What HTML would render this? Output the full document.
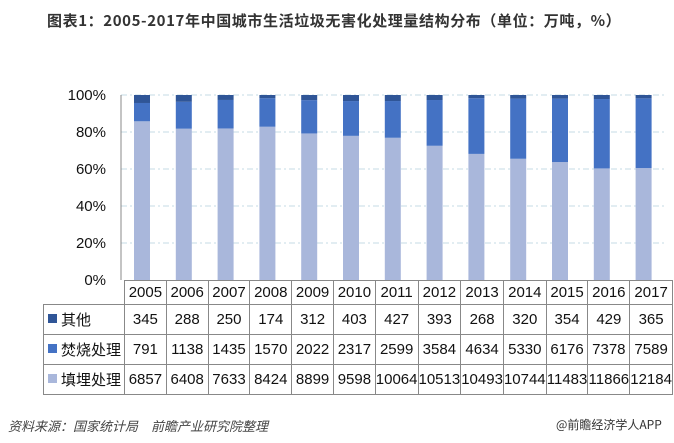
<!DOCTYPE html>
<html><head><meta charset="utf-8"><style>
body{margin:0;width:674px;height:443px;background:#fff;overflow:hidden;font-family:"Liberation Sans","Noto Sans CJK SC",sans-serif;position:relative}
.t{position:absolute;white-space:nowrap}
table{position:absolute;left:43px;top:280px;border-collapse:collapse;font-size:15px;color:#111}
td{border:1px solid #888;text-align:center;padding:0;height:29px;width:40.8px}
td.h{width:76px;text-align:left;padding-left:4px;white-space:nowrap}
tr.hd td{height:23px}
tr.hd td.e{border:none;border-right:1px solid #888;border-bottom:1px solid #888}
.sq{display:inline-block;width:9px;height:9px;margin-right:4px;vertical-align:2px}
</style></head><body>
<div class="t" style="left:47px;top:10px;font-size:15px;letter-spacing:0.6px;font-weight:bold;color:#333;font-family:'Noto Sans CJK SC',sans-serif">图表1：2005-2017年中国城市生活垃圾无害化处理量结构分布（单位：万吨，%）</div>
<svg id="s" width="674" height="443" style="position:absolute;left:0;top:0">
<g stroke="#c5dbe6" stroke-dasharray="6,3,2,3" stroke-width="1">
<line x1="121" x2="664" y1="95" y2="95"/><line x1="121" x2="664" y1="132" y2="132"/><line x1="121" x2="664" y1="169" y2="169"/><line x1="121" x2="664" y1="206" y2="206"/><line x1="121" x2="664" y1="243" y2="243"/>
</g>
<line x1="121" x2="121" y1="95" y2="280" stroke="#888"/>
<g font-size="15" fill="#111" text-anchor="end" font-family="Liberation Sans">
<text x="106" y="100">100%</text><text x="106" y="137">80%</text><text x="106" y="174">60%</text><text x="106" y="211">40%</text><text x="106" y="248">20%</text><text x="106" y="285">0%</text>
</g>
<g id="bars"></g>
</svg>
<table>
<tr class="hd"><td class="e h"></td><td>2005</td><td>2006</td><td>2007</td><td>2008</td><td>2009</td><td>2010</td><td>2011</td><td>2012</td><td>2013</td><td>2014</td><td>2015</td><td>2016</td><td>2017</td></tr>
<tr><td class="h"><span class="sq" style="background:#2f5597"></span>其他</td><td>345</td><td>288</td><td>250</td><td>174</td><td>312</td><td>403</td><td>427</td><td>393</td><td>268</td><td>320</td><td>354</td><td>429</td><td>365</td></tr>
<tr><td class="h"><span class="sq" style="background:#4472c4"></span>焚烧处理</td><td>791</td><td>1138</td><td>1435</td><td>1570</td><td>2022</td><td>2317</td><td>2599</td><td>3584</td><td>4634</td><td>5330</td><td>6176</td><td>7378</td><td>7589</td></tr>
<tr><td class="h"><span class="sq" style="background:#a9b7db"></span>填埋处理</td><td>6857</td><td>6408</td><td>7633</td><td>8424</td><td>8899</td><td>9598</td><td>10064</td><td>10513</td><td>10493</td><td>10744</td><td>11483</td><td>11866</td><td>12184</td></tr>
</table>
<div class="t" style="left:8px;top:416px;font-size:13px;font-style:italic;color:#444;font-family:'Noto Sans CJK SC',sans-serif">资料来源：国家统计局　前瞻产业研究院整理</div>
<div class="t" style="left:556px;top:416px;font-size:12px;color:#333;font-family:'Noto Sans CJK SC',sans-serif">@前瞻经济学人APP</div>
<script>
var o=[345,288,250,174,312,403,427,393,268,320,354,429,365],f=[791,1138,1435,1570,2022,2317,2599,3584,4634,5330,6176,7378,7589],l=[6857,6408,7633,8424,8899,9598,10064,10513,10493,10744,11483,11866,12184];
var g=document.getElementById('bars'),h='';
for(var i=0;i<13;i++){var t=o[i]+f[i]+l[i],x=121+41.8*i+13,w=16,H=185;
var hl=l[i]/t*H,hf=f[i]/t*H,ho=H-hl-hf;
h+='<rect x="'+x+'" y="'+(280-hl)+'" width="'+w+'" height="'+hl+'" fill="#a9b7db"/>';
h+='<rect x="'+x+'" y="'+(280-hl-hf)+'" width="'+w+'" height="'+hf+'" fill="#4472c4"/>';
h+='<rect x="'+x+'" y="95" width="'+w+'" height="'+ho+'" fill="#2f5597"/>';}
g.innerHTML=h;
</script>
</body></html>
